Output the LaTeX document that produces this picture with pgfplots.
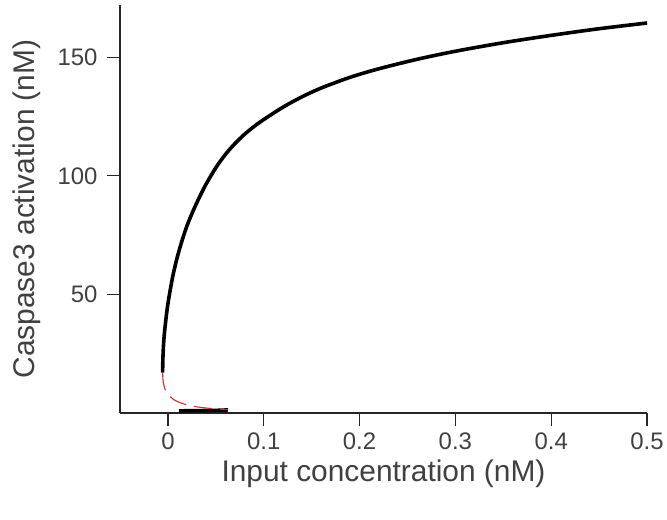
\documentclass[border=0pt]{standalone}
\usepackage{pgfplots}
\pgfplotsset{compat=1.18}
\usepackage{fontspec}
\setmainfont{Liberation Sans}
\definecolor{txt}{HTML}{404040}
\definecolor{axc}{HTML}{262626}
\definecolor{unst}{HTML}{D42A2A}
\begin{document}
\begin{tikzpicture}
\begin{axis}[
 scale only axis, width=527bp, height=408bp,
 xmin=-0.05, xmax=0.5, ymin=0, ymax=172,
 axis x line=bottom, axis y line=left,
 axis line style={-, draw=axc, line width=1.2bp},
 xtick={0,0.1,0.2,0.3,0.4,0.5}, ytick={50,100,150},
 xticklabels={0,0.1,0.2,0.3,0.4,0.5},
 tick align=outside, major tick length=13bp,
 tick style={draw=axc, line width=1.2bp},
 ticklabel style={font=\fontsize{24}{29}\selectfont, text=txt},
 xticklabel style={yshift=-3bp},
 yticklabel style={xshift=-6bp},
 /pgf/number format/assume math mode=true,
 xlabel={Input concentration (nM)}, ylabel={Caspase3 activation (nM)},
 label style={font=\fontsize{30}{35}\selectfont, text=txt},
 xlabel style={yshift=-4bp},
 ylabel shift=10bp,
 clip=false,
]
% upper stable branch
\addplot[black, line width=3.6bp, smooth, tension=0.5] coordinates {
(-0.0055,17) (-0.0053,22) (-0.0048,27) (-0.004,32) (-0.0025,38) (0,46)
(0.005,57.5) (0.01,66) (0.015,73) (0.02,79) (0.025,84) (0.03,88.5)
(0.035,92.7) (0.04,96.6) (0.05,103.4) (0.06,109) (0.07,113.6) (0.08,117.5)
(0.09,120.8) (0.1,123.7) (0.12,128.9) (0.14,133.3) (0.16,137) (0.19,141.5)
(0.22,145.1) (0.26,149.1) (0.3,152.5) (0.35,156.1) (0.4,159.2)
(0.45,162) (0.5,164.4)
};
% lower stable branch
\addplot[black, line width=3.6bp] coordinates {
(0.0116,0.9) (0.03,1.0) (0.05,1.1) (0.0626,1.3)
};
% unstable branch
\addplot[unst, line width=1.1bp, dash pattern=on 18bp off 8bp, smooth] coordinates {
(-0.0055,17) (-0.005,13.5) (-0.003,10) (0,8) (0.005,6) (0.01,4.8)
(0.02,3.4) (0.03,2.6) (0.045,1.9) (0.0626,1.4)
};
\coordinate (o) at (rel axis cs:0,0);
\end{axis}
\pgfresetboundingbox
\path (o) ++(-120bp,-107bp) rectangle ++(667bp,520bp);
\end{tikzpicture}
\end{document}
